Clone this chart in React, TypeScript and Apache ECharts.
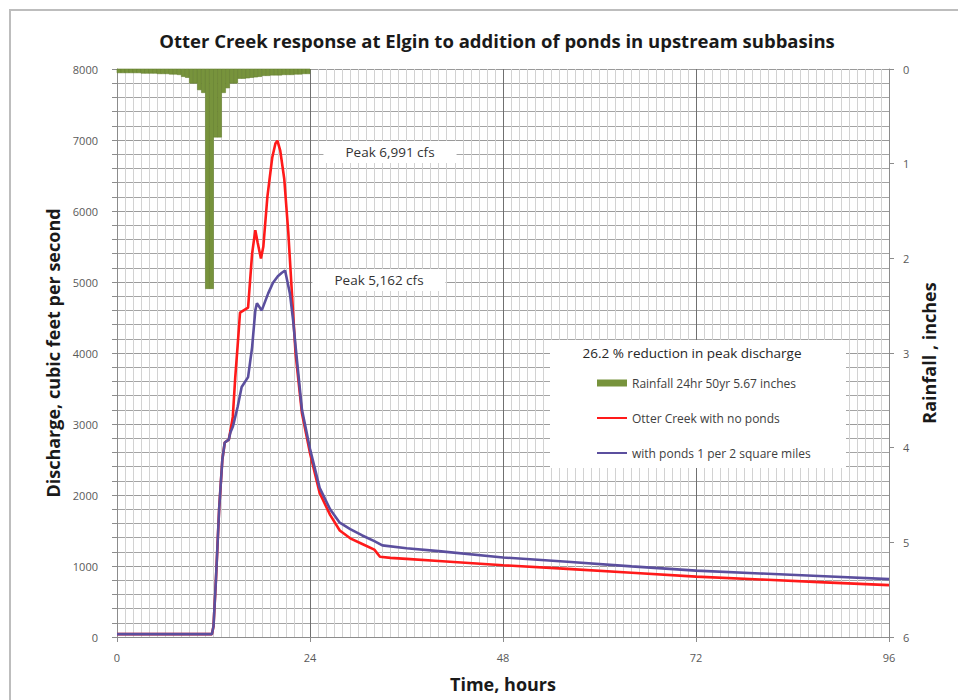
import React, { useEffect, useRef } from "react";
import * as echarts from "echarts";

const TITLE = "Otter Creek response at Elgin to addition of ponds in upstream subbasins";
const RAIN_NAME = "Rainfall 24hr 50yr 5.67 inches";
const RED_NAME = "Otter Creek with no ponds";
const BLUE_NAME = "with ponds 1 per 2 square miles";
const NOTE = "26.2 % reduction in peak discharge";
const PEAK_RED = "Peak 6,991 cfs";
const PEAK_BLUE = "Peak 5,162 cfs";

const xTicks = [0, 24, 48, 72, 96];
const leftTicks = [0, 1000, 2000, 3000, 4000, 5000, 6000, 7000, 8000];
const rightTicks = [0, 1, 2, 3, 4, 5, 6];

// rainfall, half-hour bins (start hour, inches)
const rainBinHours = 0.5;
const rainStart = [
  0, 0.5, 1, 1.5, 2, 2.5, 3, 3.5, 4, 4.5, 5, 5.5, 6, 6.5, 7, 7.5,
  8, 8.5, 9, 9.5, 10, 10.5, 11, 11.5, 12, 12.5, 13, 13.5, 14, 14.5, 15, 15.5,
  16, 16.5, 17, 17.5, 18, 18.5, 19, 19.5, 20, 20.5, 21, 21.5, 22, 22.5, 23, 23.5,
];
const rainDepth = [
  0.04, 0.04, 0.04, 0.04, 0.04, 0.04, 0.045, 0.045, 0.045, 0.045, 0.05, 0.05, 0.05, 0.055, 0.055, 0.06,
  0.08, 0.09, 0.15, 0.15, 0.22, 0.25, 2.32, 2.32, 0.72, 0.72, 0.25, 0.2, 0.15, 0.15, 0.1, 0.1,
  0.095, 0.09, 0.085, 0.08, 0.07, 0.07, 0.065, 0.065, 0.065, 0.06, 0.06, 0.06, 0.055, 0.055, 0.05, 0.05,
];

const redHours = [0, 11.8, 12.0, 12.3, 12.7, 13.1, 13.4, 13.9, 14.1, 14.4, 14.7, 15.0, 15.3, 16.3, 16.8, 17.2, 17.5, 17.9, 18.2, 18.7, 19.3, 19.7, 19.95, 20.3, 20.8, 21.3, 21.8, 22.2, 23.0, 24.0, 25.2, 26.5, 27.7, 29.0, 30.5, 32.0, 32.7, 34, 36, 40, 48, 56, 64, 72, 80, 88, 96];
const redQ = [40, 40, 150, 800, 1800, 2500, 2740, 2780, 2900, 3100, 3650, 4100, 4570, 4640, 5400, 5730, 5550, 5330, 5500, 6200, 6750, 6950, 6991, 6850, 6450, 5700, 4750, 4000, 3150, 2590, 2030, 1720, 1500, 1390, 1310, 1230, 1130, 1115, 1100, 1070, 1010, 960, 905, 850, 810, 770, 730];

const blueHours = [0, 11.8, 12.0, 12.3, 12.7, 13.1, 13.4, 13.9, 14.1, 14.4, 15.0, 15.5, 16.3, 16.8, 17.2, 17.4, 18.0, 18.8, 19.4, 20.0, 20.5, 20.9, 21.5, 21.9, 22.2, 23.0, 24.0, 25.2, 26.5, 27.7, 29.0, 30.5, 32.0, 33.0, 36, 40, 48, 56, 64, 72, 80, 88, 96];
const blueQ = [40, 40, 150, 800, 1800, 2500, 2740, 2780, 2880, 2960, 3240, 3520, 3660, 4080, 4600, 4700, 4600, 4840, 4990, 5080, 5130, 5162, 4840, 4460, 4100, 3200, 2650, 2100, 1800, 1610, 1520, 1430, 1350, 1290, 1250, 1210, 1120, 1060, 995, 935, 895, 855, 815];

const FONT = "Open Sans";
const GREEN = "#77933C";
const RED = "#ff1a1a";
const BLUE = "#5b4f9e";

export default function App() {
  const ref = useRef<HTMLDivElement>(null);
  useEffect(() => {
    if (!ref.current) return;
    const chart = echarts.init(ref.current, null, { renderer: "svg" });
    const nameStyle = { fontFamily: FONT, fontSize: 18, fontWeight: "bold", color: "#1a1a1a" };
    const option: any = {
      animation: false,
      backgroundColor: "#ffffff",
      textStyle: { fontFamily: FONT },
      title: {
        text: TITLE,
        left: 492,
        textAlign: "center",
        top: 26,
        textStyle: { fontFamily: FONT, fontSize: 18.5, fontWeight: "bold", color: "#1a1a1a" },
      },
      grid: { left: 117, right: 69, top: 69, bottom: 63, containLabel: false },
      legend: {
        orient: "vertical",
        left: 591,
        top: 372,
        itemWidth: 30,
        itemHeight: 7,
        itemGap: 23,
        selectedMode: false,
        z: 6,
        textStyle: { fontFamily: FONT, fontSize: 12, color: "#404040" },
        data: [
          { name: RAIN_NAME, icon: "rect", itemStyle: { color: GREEN } },
          { name: RED_NAME, itemStyle: { opacity: 0 } },
          { name: BLUE_NAME, itemStyle: { opacity: 0 } },
        ],
      },
      xAxis: {
        type: "value",
        min: 0,
        max: 96,
        interval: 24,
        name: "Time, hours",
        nameLocation: "middle",
        nameGap: 38,
        nameTextStyle: nameStyle,
        axisLine: { show: true, lineStyle: { color: "#8c8c8c" } },
        axisTick: { show: true, length: 5, lineStyle: { color: "#8c8c8c" } },
        axisLabel: {
          fontSize: 11,
          color: "#595959",
          margin: 15,
          formatter: (v: number) => (xTicks.includes(v) ? String(v) : ""),
        },
        splitLine: { show: true, lineStyle: { color: "#707070" } },
        minorTick: { show: false, splitNumber: 24 },
        minorSplitLine: { show: true, lineStyle: { color: "#d2d2d2" } },
      },
      yAxis: [
        {
          type: "value",
          min: 0,
          max: 8000,
          interval: 1000,
          name: "Discharge, cubic feet per second",
          nameLocation: "middle",
          nameGap: 44,
          nameTextStyle: nameStyle,
          axisLine: { show: true, lineStyle: { color: "#8c8c8c" } },
          axisTick: { show: true, length: 5, lineStyle: { color: "#8c8c8c" } },
          minorTick: { show: true, splitNumber: 5, length: 5, lineStyle: { color: "#8c8c8c" } },
          axisLabel: {
            fontSize: 11,
            color: "#595959",
            margin: 19,
            formatter: (v: number) => (leftTicks.includes(v) ? String(v) : ""),
          },
          splitLine: { show: true, lineStyle: { color: "#9a9a9a" } },
          minorSplitLine: { show: true, lineStyle: { color: "#a4a4a4" } },
        },
        {
          type: "value",
          min: 0,
          max: 6,
          interval: 1,
          inverse: true,
          position: "right",
          name: "Rainfall , inches",
          nameLocation: "middle",
          nameGap: 31,
          nameTextStyle: nameStyle,
          axisLine: { show: true, lineStyle: { color: "#8c8c8c" } },
          axisTick: { show: true, length: 5, lineStyle: { color: "#8c8c8c" } },
          axisLabel: {
            fontSize: 11,
            color: "#595959",
            margin: 14,
            formatter: (v: number) => (rightTicks.includes(v) ? String(v) : ""),
          },
          splitLine: { show: false },
        },
      ],
      series: [
        {
          type: "custom",
          name: RAIN_NAME,
          coordinateSystem: "cartesian2d",
          xAxisIndex: 0,
          yAxisIndex: 1,
          itemStyle: { color: GREEN },
          encode: { x: 0, y: 1 },
          data: rainStart.map((t, i) => [t, rainDepth[i]]),
          renderItem: (params: any, api: any) => {
            const t = api.value(0);
            const v = api.value(1);
            const p0 = api.coord([t, 0]);
            const p1 = api.coord([t + rainBinHours, v]);
            return {
              type: "rect",
              shape: { x: p0[0], y: p0[1], width: p1[0] - p0[0], height: p1[1] - p0[1] },
              style: { fill: GREEN, stroke: "#66812f", lineWidth: 0.6 },
            };
          },
          z: 2,
        },
        {
          type: "line",
          name: RED_NAME,
          data: redHours.map((t, i) => [t, redQ[i]]),
          symbol: "none",
          lineStyle: { color: RED, width: 2.6 },
          itemStyle: { color: RED },
          z: 3,
        },
        {
          type: "line",
          name: BLUE_NAME,
          data: blueHours.map((t, i) => [t, blueQ[i]]),
          symbol: "none",
          lineStyle: { color: BLUE, width: 2.6 },
          itemStyle: { color: BLUE },
          z: 4,
        },
      ],
      graphic: [
        {
          type: "rect",
          silent: true,
          z: 4,
          shape: { x: 550, y: 340, width: 296, height: 128 },
          style: { fill: "#ffffff" },
        },
        {
          type: "text",
          z: 6,
          x: 692,
          y: 353,
          style: {
            text: NOTE,
            fontFamily: FONT,
            fontSize: 13.5,
            fill: "#262626",
            align: "center",
            verticalAlign: "middle",
          },
        },
        {
          type: "text",
          z: 6,
          x: 390,
          y: 152,
          style: {
            text: PEAK_RED,
            fontFamily: FONT,
            fontSize: 13.5,
            fill: "#333333",
            align: "center",
            verticalAlign: "middle",
            backgroundColor: "#ffffff",
            padding: [4, 22],
          },
        },
        {
          type: "text",
          z: 6,
          x: 379,
          y: 280,
          style: {
            text: PEAK_BLUE,
            fontFamily: FONT,
            fontSize: 13.5,
            fill: "#333333",
            align: "center",
            verticalAlign: "middle",
            backgroundColor: "#ffffff",
            padding: [4, 22],
          },
        },
        {
          type: "rect",
          silent: true,
          z: 10,
          shape: { x: 10, y: 10, width: 1000, height: 800 },
          style: { fill: "transparent", stroke: "#bdbdbd", lineWidth: 2 },
        },
      ],
    };
    chart.setOption(option);
    return () => chart.dispose();
  }, []);
  return (
    <div
      ref={ref}
      style={{ position: "fixed", left: 0, top: 0, width: 958, height: 700, background: "#fff" }}
    />
  );
}
